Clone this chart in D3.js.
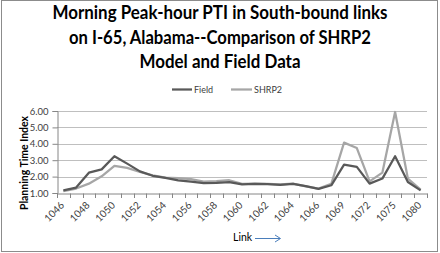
<!DOCTYPE html>
<html>
<head>
<meta charset="utf-8">
<script src="https://cdn.jsdelivr.net/npm/d3@7"></script>
<style>
  html, body { margin: 0; padding: 0; background: #fff; }
  svg { display: block; }
  text { font-family: Lato, "Open Sans", sans-serif; }
</style>
</head>
<body>
<svg id="chart" width="440" height="253"></svg>
<script>
// ---- data ----
const links = ["1046","1047","1048","1049","1050","1051","1052","1053","1054","1055",
               "1056","1057","1058","1059","1060","1061","1062","1063","1064","1065",
               "1066","1067","1069","1070","1072","1073","1075","1077","1080"];
const fieldPTI = [1.16,1.33,2.24,2.44,3.24,2.79,2.32,2.05,1.92,1.77,
                  1.69,1.60,1.62,1.66,1.52,1.55,1.54,1.50,1.55,1.42,
                  1.25,1.47,2.73,2.59,1.57,1.88,3.24,1.67,1.16];
const shrp2PTI = [1.12,1.27,1.57,2.02,2.65,2.53,2.28,2.08,1.94,1.90,
                  1.84,1.70,1.72,1.78,1.56,1.57,1.56,1.52,1.57,1.40,
                  1.27,1.56,4.07,3.74,1.71,2.24,5.94,1.88,1.21];
const yTicks = [1,2,3,4,5,6];
const titleLines = ["Morning Peak-hour PTI in South-bound links",
                    "on I-65, Alabama--Comparison of SHRP2",
                    "Model and Field Data"];
const seriesNames = ["Field", "SHRP2"];
const seriesColors = ["#595959", "#a6a6a6"];

// ---- layout ----
const svg = d3.select("#chart");
const plot = {left: 57, right: 427, top: 111, bottom: 193};

// chart border
svg.append("rect").attr("x", 1.5).attr("y", 0.5).attr("width", 436).attr("height", 251)
  .attr("fill", "#fff").attr("stroke", "#8c8c8c").attr("stroke-width", 1);

// title
const titleW = [335, 302, 161];
titleLines.forEach((t, i) => {
  svg.append("text")
    .attr("x", 220).attr("y", 19 + i * 24.5)
    .attr("text-anchor", "middle")
    .attr("font-size", 18.5).attr("font-weight", "bold").attr("fill", "#000")
    .attr("textLength", titleW[i]).attr("lengthAdjust", "spacingAndGlyphs")
    .text(t);
});

// scales
const x = d3.scaleBand().domain(links).range([plot.left, plot.right]).padding(0);
const y = d3.scaleLinear().domain([1, 6]).range([plot.bottom, plot.top]);
const cx = d => x(d) + x.bandwidth() / 2;

// gridlines
svg.append("g").selectAll("line").data(yTicks.slice(1)).join("line")
  .attr("x1", plot.left).attr("x2", plot.right)
  .attr("y1", d => Math.round(y(d)) + 0.5).attr("y2", d => Math.round(y(d)) + 0.5)
  .attr("stroke", "#bfbfbf").attr("stroke-width", 1);

// y axis
const yAxis = svg.append("g").attr("transform", `translate(${plot.left + 0.5},0)`)
  .call(d3.axisLeft(y).tickValues(yTicks).tickFormat(d3.format(".2f")).tickSize(5).tickPadding(4));
yAxis.select(".domain").attr("stroke", "#868686");
yAxis.selectAll(".tick line").attr("stroke", "#868686");
yAxis.selectAll(".tick text").attr("font-size", 9.5).attr("fill", "#404040")
  .attr("font-family", "Lato, sans-serif");

// x axis
const xAxis = svg.append("g").attr("transform", `translate(0,${Math.round(plot.bottom) + 0.5})`)
  .call(d3.axisBottom(x).tickSize(0).tickFormat((d, i) => i % 2 === 0 ? d : ""));
xAxis.select(".domain").attr("stroke", "#868686");
// ticks at category boundaries
svg.append("g").selectAll("line").data(links.concat(["_end"])).join("line")
  .attr("x1", (d, i) => Math.round(plot.left + i * x.bandwidth()) + 0.5)
  .attr("x2", (d, i) => Math.round(plot.left + i * x.bandwidth()) + 0.5)
  .attr("y1", Math.round(plot.bottom) + 0.5).attr("y2", Math.round(plot.bottom) + 5)
  .attr("stroke", "#868686");
xAxis.selectAll(".tick text")
  .attr("font-size", 10).attr("fill", "#404040").attr("font-family", "Lato, sans-serif")
  .attr("text-anchor", "end")
  .attr("x", 0).attr("y", 0).attr("dy", "0.35em").attr("dx", 0)
  .attr("transform", "translate(-1,10) rotate(-45)");

// lines
const seriesData = [fieldPTI, shrp2PTI];
const line = d3.line().x((d, i) => cx(links[i])).y(d => y(d));
[1, 0].forEach(k => {
  svg.append("path").datum(seriesData[k])
    .attr("d", line).attr("fill", "none")
    .attr("stroke", seriesColors[k]).attr("stroke-width", 2.25)
    .attr("stroke-linejoin", "round");
});

// legend
const legendItems = [{x: 172, w: 20}, {x: 231, w: 21}];
legendItems.forEach((it, k) => {
  svg.append("line").attr("x1", it.x).attr("x2", it.x + it.w)
    .attr("y1", 89.5).attr("y2", 89.5)
    .attr("stroke", seriesColors[k]).attr("stroke-width", 2.25);
  svg.append("text").attr("x", it.x + it.w + 2).attr("y", 92.5)
    .attr("font-size", 9).attr("fill", "#404040").text(seriesNames[k]);
});

// y-axis title
svg.append("text")
  .attr("transform", "translate(28,163) rotate(-90)")
  .attr("text-anchor", "middle").attr("font-size", 11).attr("font-weight", "bold")
  .attr("textLength", 94).attr("lengthAdjust", "spacingAndGlyphs")
  .text("Planning Time Index");

// x-axis title and arrow
svg.append("text").attr("x", 233).attr("y", 241)
  .attr("font-size", 10.5).attr("fill", "#000").text("Link");
svg.append("line").attr("x1", 255).attr("x2", 280).attr("y1", 238.5).attr("y2", 238.5)
  .attr("stroke", "#4a7ebb").attr("stroke-width", 1);
svg.append("path").attr("d", "M275,235 L280.5,238.5 L275,242")
  .attr("fill", "none").attr("stroke", "#4a7ebb").attr("stroke-width", 1);
</script>
</body>
</html>
